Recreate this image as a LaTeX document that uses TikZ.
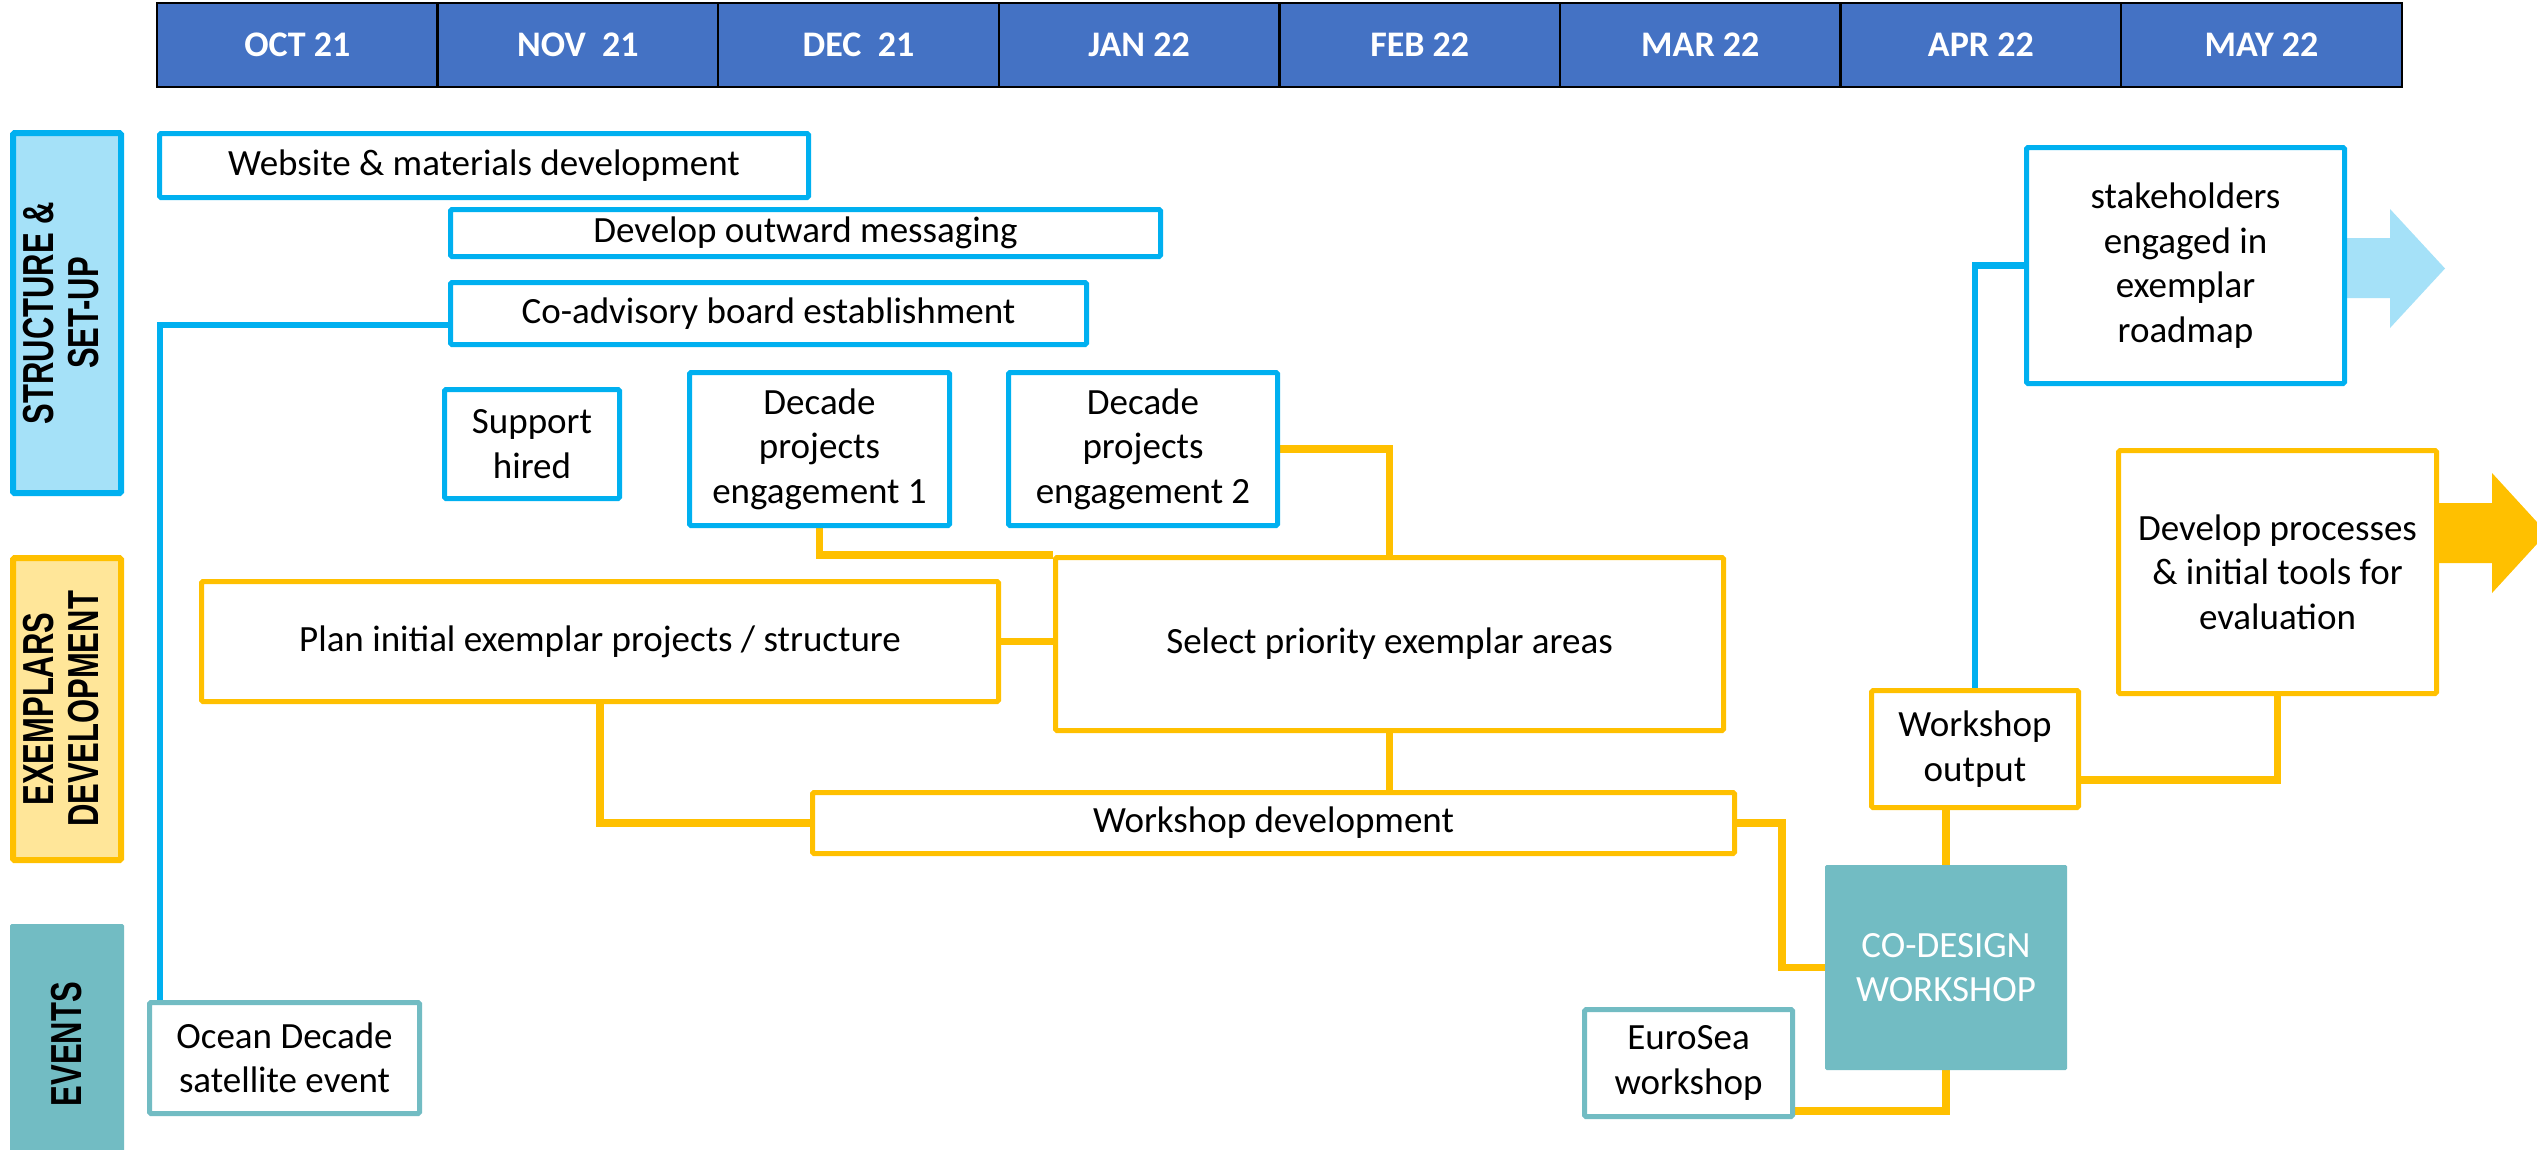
\documentclass[tikz,border=0pt]{standalone}
\usepackage{fontspec}
\setmainfont{Carlito}
\newfontfamily\catfont{Liberation Sans}
\usepackage{graphicx}
\usetikzlibrary{backgrounds}
\definecolor{hdrblue}{HTML}{4472C4}
\definecolor{cblue}{HTML}{00B0F0}
\definecolor{cyel}{HTML}{FFC000}
\definecolor{cteal}{HTML}{72BCC3}
\definecolor{lblue}{HTML}{A5E1F8}
\definecolor{lyel}{HTML}{FFE699}
\begin{document}
\begin{tikzpicture}[x=1pt,y=-1pt,
 txt/.style={font=\fontsize{37}{44.5}\selectfont, align=center, text=black, inner sep=0pt},
 bbox/.style={txt, draw=cblue, line width=5, fill=white, rounded corners=1.5},
 ybox/.style={txt, draw=cyel, line width=5, fill=white, rounded corners=1.5},
 tbox/.style={txt, draw=cteal, line width=5, fill=white, rounded corners=1.5},
 bline/.style={draw=cblue, line width=6.5},
 yline/.style={draw=cyel, line width=7.5},
 hdr/.style={draw=black, line width=2.5, fill=hdrblue, text=white,
   font=\fontsize{36}{40}\selectfont\bfseries, minimum width=280.6, minimum height=84, inner sep=0pt},
 cat/.style={rotate=90, font=\catfont\bfseries\fontsize{31}{32}\selectfont, align=center, inner sep=0pt, text=black},
]
\useasboundingbox (0,0) rectangle (2537,1149);
\clip (0,0) rectangle (2537,1149);

% header
\foreach \m [count=\i from 0] in {OCT 21,NOV~~21,DEC~~21,JAN 22,FEB 22,MAR 22,APR 22,MAY 22}{
  \node[hdr] (m\i) at ({157+280.6*(\i+0.5)},45) {\m};
}

% category labels
\node[cat, draw=cblue, line width=6, fill=lblue, rounded corners=1.5, minimum width=360, minimum height=108] (catA) at (67,313)
  {\scalebox{1}[1.4]{\begin{tabular}{@{}c@{}}STRUCTURE \&\\SET-UP\end{tabular}}};
\node[cat, draw=cyel, line width=6, fill=lyel, rounded corners=1.5, minimum width=302, minimum height=108] (catB) at (67,709)
  {\scalebox{1}[1.4]{\begin{tabular}{@{}c@{}}EXEMPLARS\\DEVELOPMENT\end{tabular}}};
\node[cat, fill=cteal, rounded corners=1.5, minimum width=240, minimum height=114] (catC) at (67,1044)
  {\scalebox{1}[1.4]{EVENTS}};

% arrows
\fill[lblue] (2338,238) -- (2390,238) -- (2390,209) -- (2445,268.5) -- (2390,328) -- (2390,298) -- (2338,298) -- cycle;
\fill[cyel] (2436,503) -- (2492,503) -- (2492,473) -- (2547,533) -- (2492,593) -- (2492,563) -- (2436,563) -- cycle;

% boxes
\node[bbox, minimum width=649, minimum height=64] (web) at (484,165.5) {Website \& materials development};
\node[bbox, minimum width=710, minimum height=47] (outward) at (805.5,233) {Develop outward messaging};
\node[bbox, minimum width=636, minimum height=62] (coadv) at (768.5,313.5) {Co-advisory board establishment};
\node[bbox, minimum width=175, minimum height=109] (support) at (532,444) {Support\\hired};
\node[bbox, minimum width=260, minimum height=153] (dec1) at (819.5,449) {Decade\\projects\\engagement 1};
\node[bbox, minimum width=269, minimum height=153] (dec2) at (1143,449) {Decade\\projects\\engagement 2};
\node[ybox, minimum width=797, minimum height=120] (plan) at (600,641.5) {Plan initial exemplar projects / structure};
\node[ybox, minimum width=668, minimum height=173] (select) at (1389.5,644) {Select priority exemplar areas};
\node[ybox, minimum width=922, minimum height=61] (wsdev) at (1273.5,823) {Workshop development};
\node[bbox, minimum width=318, minimum height=236] (stake) at (2185.5,265.5) {stakeholders\\engaged in\\exemplar\\roadmap};
\node[ybox, minimum width=318, minimum height=243] (devproc) at (2277.5,572) {Develop processes\\\& initial tools for\\evaluation};
\node[ybox, minimum width=207, minimum height=117] (wout) at (1975,749) {Workshop\\output};
\node[txt, fill=cteal, text=white, rounded corners=1.5, minimum width=242, minimum height=205] (codesign) at (1946,967.5) {CO-DESIGN\\WORKSHOP};
\node[tbox, minimum width=208, minimum height=107] (eurosea) at (1688.5,1063) {EuroSea\\workshop};
\node[tbox, minimum width=270, minimum height=111] (ocean) at (284.5,1058) {Ocean Decade\\satellite event};

\coordinate (c1) at (160,325);
\coordinate (c2) at (0,1111);
\coordinate (c3) at (0,780);

% connectors
\begin{scope}[on background layer]
\fill[white] (0,0) rectangle (2537,1149);
\draw[bline] (coadv.west |- c1) -- (c1) -- (ocean.north -| c1);
\draw[bline] (wout.north) |- (stake.west);
\draw[yline] (dec1.south) |- (select.north west);
\draw[yline] (dec2.east) -| (select.north);
\draw[yline] (plan.east) -- (plan.east -| select.west);
\draw[yline] (plan.south) |- (wsdev.west);
\draw[yline] (select.south) -- (select.south |- wsdev.north);
\draw[yline] (wsdev.east) -- ++(45,0) |- (codesign.west);
\draw[yline] (eurosea.east |- c2) -| (codesign.south);
\draw[yline] (codesign.north) -- (codesign.north |- wout.south);
\draw[yline] (wout.east |- c3) -| (devproc.south);
\end{scope}
\end{tikzpicture}
\end{document}
